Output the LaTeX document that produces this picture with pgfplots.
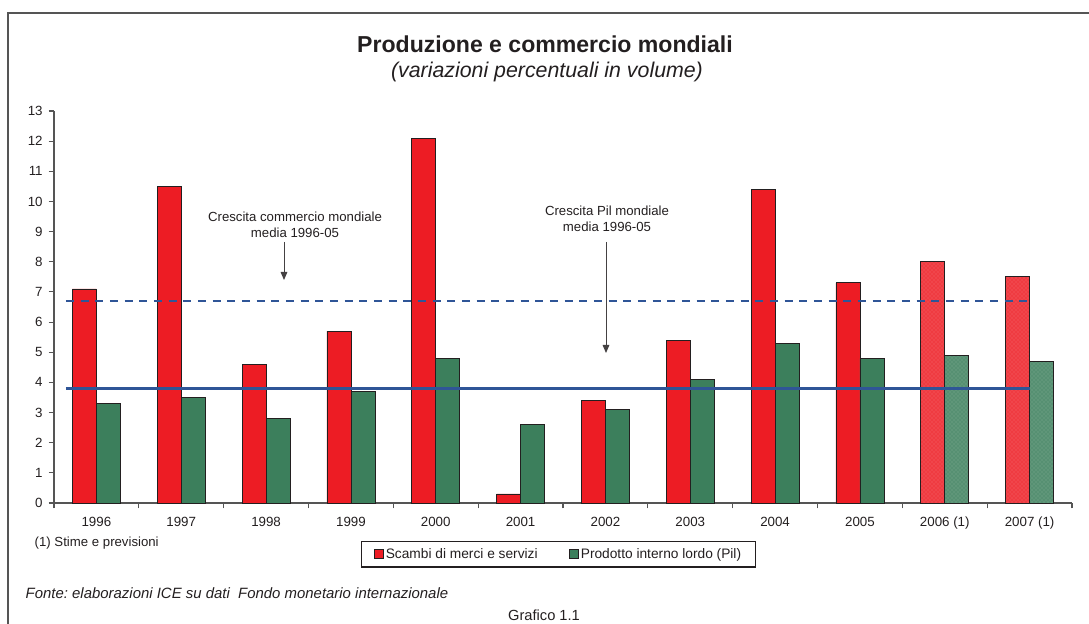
\documentclass[border=0pt]{standalone}
\usepackage{pgfplots}
\pgfplotsset{compat=1.18}
\usepackage{fontspec}
\setmainfont{Liberation Sans}
\usetikzlibrary{patterns,arrows.meta}
\definecolor{cred}{HTML}{ED1C24}
\definecolor{cgreen}{HTML}{3C7F5C}
\definecolor{cblue}{HTML}{2F5597}
\definecolor{ctext}{HTML}{231F20}
\definecolor{caxis}{HTML}{555555}
\frenchspacing
\begin{document}
\begin{tikzpicture}[x=0.75pt,y=0.75pt]
\path[use as bounding box] (0,0) rectangle (1089,624);
\draw[caxis, line width=1.1pt] (8,-20) -- (8,611) -- (1100,611);
\node[font=\bfseries\fontsize{17.3}{20}\selectfont, text=ctext] at (545,580) {Produzione e commercio mondiali};
\node[font=\itshape\fontsize{16}{19}\selectfont, text=ctext] at (547,552) {(variazioni percentuali in volume)};
\begin{axis}[
  at={(40.5pt,90.75pt)}, anchor=south west,
  scale only axis, width=763.5pt, height=294pt,
  ybar, bar width=18pt,
  xmin=-0.5, xmax=11.5, ymin=0, ymax=13,
  axis x line=bottom, axis y line=left,
  axis line style={-, caxis, line width=0.9pt},
  xtick={0,...,11},
  xticklabels={1996,1997,1998,1999,2000,2001,2002,2003,2004,2005,2006 (1),2007 (1)},
  minor xtick={-0.5,0.5,...,11.5},
  ytick={0,...,13},
  tick align=outside,
  major tick length=4pt,
  minor tick length=4pt,
  x tick style={draw=none},
  minor x tick style={draw=caxis, line width=0.8pt},
  y tick style={draw=caxis, line width=0.8pt},
  tick label style={font=\fontsize{10}{11}\selectfont, text=ctext},
  /pgf/number format/assume math mode=true,
  xticklabel style={yshift=-3pt},
  yticklabel style={xshift=-1pt},
  legend style={at={(0.4956,-0.131)}, anchor=center, draw=ctext, line width=0.8pt,
    font=\fontsize{10.3}{11}\selectfont, text=ctext, legend columns=2,
    /tikz/every even column/.append style={column sep=22pt},
    inner xsep=9pt, inner ysep=3pt,
    nodes={inner xsep=1.5pt}},
  legend cell align=left,
  clip=false,
]
\addplot[fill=cred, draw=ctext, line width=0.6pt, bar shift=-9pt,
  legend image code/.code={\draw[fill=cred, draw=ctext, line width=0.6pt] (0pt,-3.4pt) rectangle (6.8pt,3.4pt);}]
  coordinates {(0,7.1) (1,10.5) (2,4.6) (3,5.7) (4,12.1) (5,0.3) (6,3.4) (7,5.4) (8,10.4) (9,7.3)};
\addplot[fill=cgreen, draw=ctext, line width=0.6pt, bar shift=9pt,
  legend image code/.code={\draw[fill=cgreen, draw=ctext, line width=0.6pt] (0pt,-3.4pt) rectangle (6.8pt,3.4pt);}]
  coordinates {(0,3.3) (1,3.5) (2,2.8) (3,3.7) (4,4.8) (5,2.6) (6,3.1) (7,4.1) (8,5.3) (9,4.8)};
\addplot[fill=cred!82!white, draw=ctext, line width=0.6pt, bar shift=-9pt,
  postaction={pattern=crosshatch dots, pattern color=cred}, forget plot]
  coordinates {(10,8.0) (11,7.5)};
\addplot[fill=cgreen!82!white, draw=ctext, line width=0.6pt, bar shift=9pt,
  postaction={pattern=crosshatch dots, pattern color=cgreen}, forget plot]
  coordinates {(10,4.9) (11,4.7)};
\addplot[sharp plot, cblue, line width=2pt, dash pattern=on 6pt off 5pt, forget plot]
  coordinates {(-0.36,6.7) (11,6.7)};
\addplot[sharp plot, cblue, line width=2.3pt, forget plot]
  coordinates {(-0.36,3.8) (11,3.8)};
\legend{Scambi di merci e servizi, Prodotto interno lordo (Pil)}
\end{axis}
\node[font=\fontsize{9.9}{12}\selectfont, text=ctext, align=center] at (295,399) {Crescita commercio mondiale\\media 1996-05};
\draw[-{Triangle[length=6pt,width=5pt]}, ctext!85, line width=0.7pt] (284,382) -- (284,344);
\node[font=\fontsize{9.9}{12}\selectfont, text=ctext, align=center] at (607,405) {Crescita Pil mondiale\\media 1996-05};
\draw[-{Triangle[length=6pt,width=5pt]}, ctext!85, line width=0.7pt] (606,382) -- (606,271);
\node[font=\fontsize{9.9}{11}\selectfont, text=ctext, anchor=west] at (30,81) {(1) Stime e previsioni};
\node[font=\itshape\fontsize{11.2}{13}\selectfont, text=ctext, anchor=west] at (21,31) {Fonte: elaborazioni ICE su dati\ \ Fondo monetario internazionale};
\node[font=\fontsize{11}{13}\selectfont, text=ctext] at (544,9) {Grafico 1.1};
\end{tikzpicture}
\end{document}
